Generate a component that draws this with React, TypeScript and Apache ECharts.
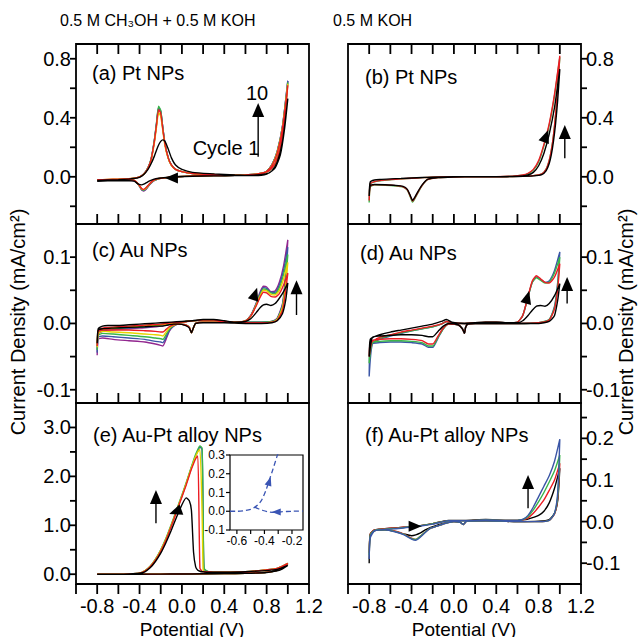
import React, { useEffect, useRef } from "react";
import * as echarts from "echarts";

const FONT = "'Liberation Sans', Arial, Helvetica, sans-serif";
const C_BLACK = "#000000";
const C_RED = "#ec1c24";
const C_YELLOW = "#e8d400";
const C_GREEN = "#3ab54a";
const C_BLUE = "#3b56a6";
const C_PURPLE = "#92278f";
const C_INSET = "#3a55b4";

// ---------- X axis (Potential, V): ticks every 0.2, labels every 0.4 ----------
const X_MIN = -1.0;
const X_MAX = 1.2;
const X_STEP = 0.2;
const X_TICKS = [-0.8, -0.6, -0.4, -0.2, 0, 0.2, 0.4, 0.6, 0.8, 1.0];
const X_TICKS_OUTER = [-1.0, -0.8, -0.6, -0.4, -0.2, 0, 0.2, 0.4, 0.6, 0.8, 1.0, 1.2];

// ---------- Panel (a) Pt NPs, CH3OH + KOH ----------
const POT_A = [-0.8, -0.7, -0.6, -0.5, -0.45, -0.4, -0.36, -0.32, -0.29, -0.26, -0.24, -0.22, -0.2, -0.18, -0.16, -0.13, -0.1, -0.06, 0.0, 0.1, 0.3, 0.5, 0.65, 0.75, 0.8, 0.85, 0.9, 0.95, 1.0,
  0.97, 0.93, 0.88, 0.82, 0.7, 0.5, 0.3, 0.1, -0.05, -0.15, -0.22, -0.27, -0.31, -0.34, -0.36, -0.38, -0.41, -0.45, -0.5, -0.6, -0.7, -0.8];
const A_BLACK = [-0.025, -0.022, -0.02, -0.016, -0.012, -0.004, 0.015, 0.05, 0.09, 0.14, 0.18, 0.215, 0.24, 0.25, 0.24, 0.19, 0.13, 0.08, 0.05, 0.03, 0.02, 0.012, 0.008, 0.01, 0.018, 0.04, 0.1, 0.24, 0.53,
  0.33, 0.15, 0.06, 0.025, 0.012, 0.008, 0.006, 0.004, 0.0, -0.005, -0.01, -0.018, -0.03, -0.042, -0.05, -0.055, -0.05, -0.03, -0.026, -0.027, -0.028, -0.03];
const A_RED = [-0.02, -0.018, -0.016, -0.013, -0.01, 0.0, 0.018, 0.06, 0.12, 0.24, 0.35, 0.455, 0.43, 0.32, 0.22, 0.13, 0.08, 0.05, 0.035, 0.022, 0.015, 0.01, 0.01, 0.02, 0.035, 0.075, 0.16, 0.33, 0.62,
  0.4, 0.2, 0.09, 0.04, 0.018, 0.01, 0.008, 0.005, 0.0, -0.006, -0.012, -0.025, -0.05, -0.075, -0.085, -0.08, -0.05, -0.025, -0.02, -0.02, -0.021, -0.022];
const A_YELLOW = [-0.02, -0.018, -0.016, -0.013, -0.01, 0.0, 0.017, 0.058, 0.115, 0.23, 0.335, 0.435, 0.41, 0.31, 0.21, 0.125, 0.078, 0.05, 0.035, 0.022, 0.015, 0.01, 0.01, 0.02, 0.036, 0.078, 0.165, 0.335, 0.63,
  0.41, 0.2, 0.09, 0.04, 0.018, 0.01, 0.008, 0.005, 0.0, -0.006, -0.012, -0.026, -0.052, -0.078, -0.087, -0.082, -0.05, -0.025, -0.02, -0.02, -0.021, -0.022];
const A_GREEN = [-0.021, -0.019, -0.017, -0.014, -0.01, 0.0, 0.019, 0.062, 0.125, 0.25, 0.365, 0.478, 0.45, 0.33, 0.225, 0.13, 0.08, 0.05, 0.035, 0.022, 0.015, 0.01, 0.01, 0.021, 0.037, 0.08, 0.17, 0.34, 0.64,
  0.41, 0.2, 0.09, 0.04, 0.018, 0.01, 0.008, 0.005, 0.0, -0.006, -0.013, -0.027, -0.054, -0.08, -0.09, -0.085, -0.052, -0.026, -0.021, -0.021, -0.022, -0.023];
const A_BLUE = [-0.022, -0.02, -0.018, -0.014, -0.01, 0.0, 0.019, 0.061, 0.123, 0.247, 0.36, 0.47, 0.445, 0.33, 0.225, 0.13, 0.08, 0.05, 0.035, 0.022, 0.015, 0.01, 0.01, 0.021, 0.038, 0.082, 0.172, 0.345, 0.65,
  0.42, 0.21, 0.09, 0.04, 0.018, 0.01, 0.008, 0.005, 0.0, -0.006, -0.013, -0.028, -0.056, -0.083, -0.093, -0.087, -0.053, -0.027, -0.022, -0.022, -0.023, -0.024];
const A_PURPLE = [-0.023, -0.021, -0.019, -0.015, -0.011, 0.0, 0.019, 0.06, 0.12, 0.244, 0.355, 0.465, 0.44, 0.33, 0.225, 0.13, 0.08, 0.05, 0.035, 0.022, 0.015, 0.01, 0.01, 0.021, 0.038, 0.082, 0.172, 0.345, 0.65,
  0.42, 0.21, 0.09, 0.04, 0.018, 0.01, 0.008, 0.005, 0.0, -0.006, -0.014, -0.029, -0.058, -0.086, -0.096, -0.09, -0.055, -0.028, -0.023, -0.023, -0.024, -0.025];

// ---------- Panel (b) Pt NPs, KOH ----------
const POT_B = [-0.8, -0.79, -0.75, -0.7, -0.6, -0.5, -0.4, -0.3, -0.2, 0.0, 0.2, 0.4, 0.55, 0.65, 0.7, 0.75, 0.8, 0.85, 0.9, 0.95, 1.0,
  0.98, 0.96, 0.94, 0.92, 0.9, 0.87, 0.83, 0.75, 0.6, 0.4, 0.2, 0.0, -0.15, -0.25, -0.3, -0.34, -0.37, -0.39, -0.41, -0.44, -0.48, -0.55, -0.65, -0.75, -0.79, -0.8];
const B_GREEN = [-0.175, -0.05, -0.035, -0.028, -0.02, -0.015, -0.01, -0.006, -0.003, 0.0, 0.0, 0.001, 0.003, 0.01, 0.02, 0.045, 0.1, 0.21, 0.35, 0.55, 0.81,
  0.6, 0.42, 0.28, 0.18, 0.11, 0.05, 0.02, 0.008, 0.003, 0.0, 0.0, -0.002, -0.006, -0.02, -0.06, -0.11, -0.15, -0.172, -0.14, -0.09, -0.07, -0.062, -0.057, -0.055, -0.07, -0.175];
const B_RED = [-0.16, -0.048, -0.033, -0.026, -0.019, -0.014, -0.01, -0.006, -0.003, 0.0, 0.0, 0.001, 0.004, 0.012, 0.024, 0.05, 0.11, 0.22, 0.36, 0.56, 0.82,
  0.6, 0.42, 0.28, 0.18, 0.11, 0.05, 0.02, 0.008, 0.003, 0.0, 0.0, -0.002, -0.006, -0.02, -0.058, -0.105, -0.145, -0.165, -0.135, -0.088, -0.068, -0.06, -0.055, -0.053, -0.065, -0.16];
const B_BLACK = [-0.13, -0.035, -0.022, -0.018, -0.014, -0.011, -0.008, -0.005, -0.002, 0.0, 0.0, 0.001, 0.002, 0.006, 0.012, 0.03, 0.075, 0.16, 0.29, 0.47, 0.73,
  0.52, 0.36, 0.24, 0.15, 0.09, 0.04, 0.015, 0.006, 0.002, 0.0, 0.0, -0.002, -0.006, -0.018, -0.055, -0.1, -0.14, -0.16, -0.13, -0.085, -0.065, -0.058, -0.054, -0.052, -0.06, -0.13];

// ---------- Panel (c) Au NPs, CH3OH + KOH ----------
const POT_C = [-0.8, -0.79, -0.75, -0.7, -0.6, -0.5, -0.4, -0.3, -0.2, -0.1, 0.0, 0.1, 0.2, 0.3, 0.4, 0.5, 0.6, 0.65, 0.7, 0.74, 0.77, 0.8, 0.84, 0.88, 0.92, 0.96, 1.0,
  0.98, 0.95, 0.9, 0.85, 0.75, 0.6, 0.4, 0.2, 0.13, 0.11, 0.09, 0.07, 0.03, -0.03, -0.08, -0.12, -0.15, -0.18, -0.2, -0.25, -0.35, -0.5, -0.65, -0.75, -0.79, -0.8];
const C_PURPLE_D = [-0.048, -0.016, -0.012, -0.01, -0.009, -0.008, -0.007, -0.006, -0.004, 0.0, 0.002, 0.004, 0.005, 0.005, 0.003, 0.002, 0.004, 0.012, 0.03, 0.048, 0.056, 0.055, 0.048, 0.049, 0.062, 0.087, 0.126,
  0.075, 0.03, 0.008, 0.003, 0.002, 0.002, 0.002, 0.002, 0.0, -0.006, -0.014, -0.006, -0.002, -0.001, -0.004, -0.012, -0.024, -0.034, -0.033, -0.031, -0.028, -0.026, -0.024, -0.022, -0.024, -0.048];
const C_BLUE_D = [-0.044, -0.014, -0.011, -0.009, -0.008, -0.007, -0.006, -0.005, -0.003, 0.0, 0.002, 0.004, 0.005, 0.005, 0.003, 0.002, 0.004, 0.012, 0.029, 0.046, 0.054, 0.053, 0.047, 0.047, 0.058, 0.08, 0.115,
  0.07, 0.028, 0.007, 0.003, 0.002, 0.002, 0.002, 0.002, 0.0, -0.006, -0.014, -0.006, -0.002, -0.001, -0.004, -0.011, -0.021, -0.029, -0.028, -0.027, -0.024, -0.022, -0.02, -0.019, -0.021, -0.044];
const C_GREEN_D = [-0.04, -0.012, -0.01, -0.008, -0.007, -0.006, -0.005, -0.004, -0.002, 0.0, 0.002, 0.004, 0.005, 0.005, 0.003, 0.002, 0.004, 0.011, 0.028, 0.044, 0.052, 0.051, 0.046, 0.045, 0.054, 0.074, 0.104,
  0.064, 0.026, 0.007, 0.003, 0.002, 0.002, 0.002, 0.002, 0.0, -0.006, -0.014, -0.006, -0.002, -0.001, -0.003, -0.009, -0.017, -0.024, -0.023, -0.022, -0.02, -0.018, -0.016, -0.015, -0.018, -0.04];
const C_YELLOW_D = [-0.036, -0.011, -0.009, -0.007, -0.006, -0.005, -0.004, -0.003, -0.002, 0.0, 0.002, 0.004, 0.005, 0.005, 0.003, 0.002, 0.004, 0.011, 0.027, 0.042, 0.05, 0.049, 0.044, 0.043, 0.05, 0.067, 0.092,
  0.058, 0.024, 0.006, 0.002, 0.001, 0.001, 0.002, 0.002, 0.0, -0.006, -0.014, -0.006, -0.002, -0.001, -0.003, -0.007, -0.013, -0.019, -0.018, -0.017, -0.016, -0.014, -0.013, -0.012, -0.015, -0.036];
const C_RED_D = [-0.034, -0.01, -0.007, -0.006, -0.005, -0.004, -0.003, -0.002, -0.001, 0.001, 0.002, 0.004, 0.005, 0.005, 0.003, 0.002, 0.004, 0.011, 0.026, 0.04, 0.047, 0.046, 0.041, 0.04, 0.045, 0.058, 0.076,
  0.05, 0.02, 0.005, 0.002, 0.001, 0.001, 0.002, 0.002, 0.0, -0.006, -0.014, -0.006, -0.002, -0.001, -0.002, -0.005, -0.009, -0.013, -0.013, -0.012, -0.011, -0.01, -0.01, -0.01, -0.012, -0.034];
const C_BLACK_D = [-0.03, -0.008, -0.004, -0.003, -0.003, -0.002, -0.001, 0.0, 0.001, 0.002, 0.003, 0.004, 0.006, 0.006, 0.004, 0.002, 0.003, 0.007, 0.016, 0.024, 0.028, 0.029, 0.027, 0.03, 0.038, 0.048, 0.061,
  0.035, 0.015, 0.004, 0.001, 0.0, 0.0, 0.001, 0.001, 0.0, -0.006, -0.014, -0.007, -0.003, -0.001, -0.001, -0.002, -0.003, -0.004, -0.004, -0.004, -0.005, -0.006, -0.007, -0.008, -0.01, -0.03];

// ---------- Panel (d) Au NPs, KOH ----------
const POT_D = [-0.8, -0.79, -0.75, -0.7, -0.6, -0.5, -0.4, -0.3, -0.2, -0.12, -0.07, -0.02, 0.1, 0.3, 0.4, 0.5, 0.6, 0.65, 0.7, 0.74, 0.78, 0.82, 0.86, 0.9, 0.95, 1.0,
  0.98, 0.95, 0.9, 0.8, 0.6, 0.4, 0.2, 0.13, 0.11, 0.1, 0.08, 0.04, -0.05, -0.1, -0.15, -0.2, -0.24, -0.3, -0.4, -0.5, -0.6, -0.7, -0.77, -0.8];
const D_BLUE = [-0.08, -0.035, -0.028, -0.024, -0.019, -0.015, -0.011, -0.008, -0.005, -0.001, 0.003, 0.001, 0.0, 0.002, 0.002, 0.001, 0.002, 0.012, 0.04, 0.062, 0.07, 0.066, 0.062, 0.064, 0.08, 0.108,
  0.062, 0.026, 0.006, 0.001, 0.0, 0.0, 0.0, -0.001, -0.006, -0.015, -0.008, -0.002, -0.001, -0.008, -0.022, -0.036, -0.036, -0.031, -0.029, -0.028, -0.028, -0.029, -0.031, -0.08];
const D_GREEN = [-0.06, -0.033, -0.027, -0.023, -0.018, -0.014, -0.011, -0.008, -0.005, -0.001, 0.003, 0.001, 0.0, 0.002, 0.002, 0.001, 0.002, 0.012, 0.04, 0.062, 0.069, 0.065, 0.061, 0.062, 0.076, 0.1,
  0.058, 0.024, 0.006, 0.001, 0.0, 0.0, 0.0, -0.001, -0.006, -0.015, -0.008, -0.002, -0.001, -0.008, -0.021, -0.034, -0.034, -0.029, -0.027, -0.026, -0.026, -0.027, -0.029, -0.06];
const D_RED = [-0.05, -0.03, -0.025, -0.021, -0.017, -0.013, -0.01, -0.007, -0.004, -0.001, 0.003, 0.001, 0.0, 0.002, 0.002, 0.001, 0.002, 0.012, 0.041, 0.064, 0.072, 0.067, 0.062, 0.061, 0.07, 0.09,
  0.052, 0.022, 0.005, 0.001, 0.0, 0.0, 0.0, -0.001, -0.006, -0.015, -0.008, -0.002, -0.001, -0.007, -0.019, -0.031, -0.031, -0.026, -0.024, -0.023, -0.023, -0.024, -0.026, -0.05];
const D_BLACK = [-0.05, -0.024, -0.02, -0.017, -0.013, -0.01, -0.007, -0.004, -0.001, 0.003, 0.006, 0.002, 0.0, 0.002, 0.002, 0.001, 0.001, 0.004, 0.012, 0.02, 0.026, 0.027, 0.026, 0.03, 0.042, 0.06,
  0.035, 0.012, 0.003, 0.0, 0.0, 0.0, 0.0, -0.001, -0.006, -0.015, -0.008, -0.002, 0.0, -0.004, -0.012, -0.02, -0.02, -0.018, -0.017, -0.017, -0.018, -0.019, -0.021, -0.05];

// ---------- Panel (e) Au-Pt alloy NPs, CH3OH + KOH ----------
const POT_E = [-0.8, -0.6, -0.4, -0.2, 0.0, 0.2, 0.4, 0.6, 0.8, 0.9, 0.95, 1.0,
  0.9, 0.6, 0.4, 0.3, 0.25, 0.21, 0.2, 0.19, 0.17, 0.15, 0.13, 0.11, 0.09, 0.07, 0.04, 0.0, -0.05, -0.1, -0.15, -0.2, -0.25, -0.3, -0.35, -0.4, -0.5, -0.6, -0.8];
const E_BLUE = [0.0, 0.0, 0.0, 0.002, 0.005, 0.01, 0.015, 0.02, 0.04, 0.08, 0.13, 0.22,
  0.12, 0.05, 0.04, 0.04, 0.05, 0.1, 1.3, 2.55, 2.6, 2.52, 2.42, 2.3, 2.18, 2.05, 1.85, 1.6, 1.3, 1.0, 0.72, 0.49, 0.3, 0.16, 0.07, 0.02, 0.005, 0.0, 0.0];
const E_GREEN = [0.0, 0.0, 0.0, 0.002, 0.005, 0.01, 0.015, 0.02, 0.04, 0.08, 0.13, 0.22,
  0.12, 0.05, 0.04, 0.04, 0.05, 0.12, 1.4, 2.58, 2.62, 2.55, 2.45, 2.33, 2.2, 2.07, 1.87, 1.62, 1.32, 1.02, 0.74, 0.5, 0.31, 0.165, 0.07, 0.02, 0.005, 0.0, 0.0];
const E_YELLOW = [0.0, 0.0, 0.0, 0.002, 0.005, 0.01, 0.015, 0.02, 0.04, 0.08, 0.13, 0.22,
  0.12, 0.05, 0.04, 0.04, 0.05, 0.06, 0.1, 1.3, 2.55, 2.5, 2.41, 2.3, 2.18, 2.05, 1.85, 1.6, 1.3, 1.0, 0.72, 0.49, 0.3, 0.16, 0.07, 0.02, 0.005, 0.0, 0.0];
const E_RED = [0.0, 0.0, 0.0, 0.002, 0.005, 0.01, 0.015, 0.02, 0.04, 0.08, 0.13, 0.22,
  0.12, 0.05, 0.04, 0.04, 0.05, 0.05, 0.05, 0.06, 0.12, 2.42, 2.36, 2.26, 2.15, 2.02, 1.82, 1.58, 1.28, 0.98, 0.7, 0.47, 0.29, 0.155, 0.065, 0.02, 0.005, 0.0, 0.0];
const E_BLACK = [0.0, 0.0, 0.0, 0.002, 0.004, 0.008, 0.012, 0.018, 0.035, 0.07, 0.11, 0.18,
  0.1, 0.05, 0.04, 0.04, 0.04, 0.045, 0.05, 0.05, 0.06, 0.08, 0.15, 0.45, 1.3, 1.5, 1.56, 1.42, 1.17, 0.9, 0.65, 0.43, 0.26, 0.13, 0.05, 0.02, 0.005, 0.0, 0.0];

// ---------- Inset of (e) ----------
const INSET_UP_V = [-0.65, -0.6, -0.55, -0.5, -0.47, -0.44, -0.42, -0.39, -0.37, -0.34, -0.31, -0.3];
const INSET_UP_I = [0.0, 0.0, 0.003, 0.01, 0.022, 0.04, 0.06, 0.11, 0.155, 0.22, 0.29, 0.31];
const INSET_DN_V = [-0.47, -0.44, -0.41, -0.37, -0.33, -0.28, -0.2, -0.12];
const INSET_DN_I = [0.022, 0.012, 0.004, -0.003, -0.006, -0.003, 0.0, 0.001];
const INSET_X_TICKS = [-0.6, -0.5, -0.4, -0.3, -0.2];
const INSET_Y_TICKS = [-0.1, 0, 0.1, 0.2, 0.3];

// ---------- Panel (f) Au-Pt alloy NPs, KOH ----------
const POT_F = [-0.8, -0.79, -0.75, -0.7, -0.6, -0.5, -0.4, -0.3, -0.2, -0.1, -0.05, 0.1, 0.3, 0.5, 0.6, 0.65, 0.7, 0.75, 0.8, 0.85, 0.9, 0.95, 1.0,
  0.98, 0.95, 0.9, 0.8, 0.6, 0.3, 0.12, 0.09, 0.06, 0.0, -0.08, -0.15, -0.22, -0.27, -0.32, -0.36, -0.4, -0.47, -0.55, -0.65, -0.75, -0.79, -0.8];
const F_BLUE = [-0.09, -0.04, -0.022, -0.02, -0.018, -0.016, -0.013, -0.01, -0.006, 0.0, 0.002, 0.002, 0.004, 0.003, 0.003, 0.005, 0.015, 0.035, 0.06, 0.085, 0.11, 0.145, 0.198,
  0.07, 0.02, 0.003, 0.0, 0.0, 0.002, 0.001, -0.007, -0.002, 0.0, -0.004, -0.01, -0.016, -0.026, -0.038, -0.045, -0.042, -0.032, -0.025, -0.02, -0.022, -0.035, -0.09];
const F_GREEN = [-0.08, -0.035, -0.021, -0.019, -0.017, -0.015, -0.012, -0.009, -0.005, 0.0, 0.002, 0.002, 0.004, 0.003, 0.003, 0.005, 0.012, 0.028, 0.048, 0.07, 0.095, 0.122, 0.16,
  0.06, 0.02, 0.003, 0.0, 0.0, 0.002, 0.001, -0.007, -0.002, 0.0, -0.004, -0.01, -0.016, -0.025, -0.036, -0.043, -0.041, -0.031, -0.024, -0.02, -0.021, -0.032, -0.08];
const F_RED = [-0.075, -0.03, -0.02, -0.018, -0.016, -0.014, -0.012, -0.009, -0.005, 0.0, 0.002, 0.002, 0.004, 0.003, 0.003, 0.004, 0.009, 0.02, 0.035, 0.052, 0.075, 0.1, 0.14,
  0.055, 0.018, 0.003, 0.0, 0.0, 0.002, 0.001, -0.007, -0.002, 0.0, -0.004, -0.01, -0.016, -0.025, -0.036, -0.043, -0.04, -0.03, -0.023, -0.019, -0.02, -0.03, -0.075];
const F_BLACK = [-0.1, -0.03, -0.02, -0.018, -0.016, -0.014, -0.012, -0.009, -0.005, 0.001, 0.003, 0.003, 0.005, 0.003, 0.003, 0.004, 0.006, 0.01, 0.015, 0.025, 0.045, 0.08, 0.128,
  0.05, 0.02, 0.005, 0.001, 0.0, 0.002, 0.001, -0.007, -0.002, 0.0, -0.003, -0.008, -0.014, -0.02, -0.028, -0.032, -0.034, -0.03, -0.024, -0.02, -0.022, -0.03, -0.1];

// ---------- layout (pixels) ----------
const GRID_RECTS = [
  { left: 76, top: 44, width: 233, height: 180 },
  { left: 348, top: 44, width: 233, height: 180 },
  { left: 76, top: 224, width: 233, height: 179 },
  { left: 348, top: 224, width: 233, height: 179 },
  { left: 76, top: 403, width: 233, height: 181 },
  { left: 348, top: 403, width: 233, height: 181 },
  { left: 230, top: 455, width: 73, height: 75 },
];

const Y_CFG = [
  { min: -0.32, max: 0.9, ticks: [-0.2, 0, 0.2, 0.4, 0.6, 0.8], labels: [0, 0.4, 0.8], right: false },
  { min: -0.32, max: 0.9, ticks: [-0.2, 0, 0.2, 0.4, 0.6, 0.8], labels: [0, 0.4, 0.8], right: true },
  { min: -0.12, max: 0.15, ticks: [-0.1, -0.05, 0, 0.05, 0.1], labels: [-0.1, 0, 0.1], right: false },
  { min: -0.12, max: 0.15, ticks: [-0.1, -0.05, 0, 0.05, 0.1], labels: [-0.1, 0, 0.1], right: true },
  { min: -0.2, max: 3.5, ticks: [0, 0.5, 1, 1.5, 2, 2.5, 3], labels: [0, 1, 2, 3], right: false },
  { min: -0.15, max: 0.285, ticks: [-0.1, -0.05, 0, 0.05, 0.1, 0.15, 0.2, 0.25], labels: [-0.1, 0, 0.1, 0.2], right: true },
];

const PANELS = [
  { pot: POT_A, curves: [[A_PURPLE, C_PURPLE], [A_BLUE, C_BLUE], [A_GREEN, C_GREEN], [A_YELLOW, C_YELLOW], [A_RED, C_RED], [A_BLACK, C_BLACK]] },
  { pot: POT_B, curves: [[B_GREEN, C_GREEN], [B_RED, C_RED], [B_BLACK, C_BLACK]] },
  { pot: POT_C, curves: [[C_PURPLE_D, C_PURPLE], [C_BLUE_D, C_BLUE], [C_GREEN_D, C_GREEN], [C_YELLOW_D, C_YELLOW], [C_RED_D, C_RED], [C_BLACK_D, C_BLACK]] },
  { pot: POT_D, curves: [[D_BLUE, C_BLUE], [D_GREEN, C_GREEN], [D_RED, C_RED], [D_BLACK, C_BLACK]] },
  { pot: POT_E, curves: [[E_BLUE, C_BLUE], [E_GREEN, C_GREEN], [E_YELLOW, C_YELLOW], [E_RED, C_RED], [E_BLACK, C_BLACK]] },
  { pot: POT_F, curves: [[F_BLACK, C_BLACK], [F_RED, C_RED], [F_GREEN, C_GREEN], [F_BLUE, C_BLUE]] },
];

const fmt1 = (v: number) => v.toFixed(1);
const fmtX = (v: number) => (Math.abs(Math.round(v * 10)) % 4 === 0 ? v.toFixed(1) : "");
const pair = (xs: number[], ys: number[]) => xs.map((x, k) => [x, ys[k]]);

function xAxisFor(i: number, labels: boolean) {
  return {
    type: "value", gridIndex: i, min: X_MIN, max: X_MAX, interval: X_STEP, position: "bottom",
    axisLine: { show: false, onZero: false }, splitLine: { show: false },
    axisTick: { show: false },
    axisLabel: { show: labels, formatter: fmtX, fontSize: 20, fontFamily: FONT, color: "#000", margin: 12 },
  };
}

// tick descriptors per panel: [x, y, dxPx, dyPx]  (anchored through the panel's own axes)
function tickData(i: number) {
  const c = Y_CFG[i];
  const out: number[][] = [];
  const bottomRow = i >= 4;
  for (const v of bottomRow ? X_TICKS_OUTER : X_TICKS) {
    out.push([v, c.min, 0, bottomRow ? 10 : -10]);
    if (i < 2) out.push([v, c.max, 0, 10]);
  }
  for (const v of c.ticks) out.push(c.right ? [X_MAX, v, 6, 0] : [X_MIN, v, -6, 0]);
  return out;
}
function insetTickData() {
  const out: number[][] = [];
  for (const v of INSET_X_TICKS) out.push([v, -0.1, 0, 4]);
  for (const v of INSET_Y_TICKS) out.push([-0.65, v, -4, 0]);
  return out;
}

function tickSeries(i: number, data: number[][], w: number) {
  return {
    type: "custom", xAxisIndex: i, yAxisIndex: i, clip: false, silent: true, z: 20,
    dimensions: ["x", "y", "dx", "dy"], encode: { x: 0, y: 1 },
    data,
    renderItem: (_p: any, api: any) => {
      const pt = api.coord([api.value(0), api.value(1)]);
      return {
        type: "line",
        shape: { x1: pt[0], y1: pt[1], x2: pt[0] + api.value(2), y2: pt[1] + api.value(3) },
        style: { stroke: "#000", lineWidth: w },
      };
    },
  };
}

function buildOption() {
  const xAxes: any[] = [];
  const yAxes: any[] = [];
  for (let i = 0; i < 6; i++) {
    xAxes.push(xAxisFor(i, i >= 4));
    const c = Y_CFG[i];
    yAxes.push({
      type: "value", gridIndex: i, min: c.min, max: c.max, position: c.right ? "right" : "left",
      axisLine: { show: false, onZero: false }, splitLine: { show: false },
      axisTick: { show: false },
      axisLabel: { customValues: c.labels, formatter: fmt1, fontSize: 20, fontFamily: FONT, color: "#000", margin: 5 },
    });
  }
  xAxes.push({
    type: "value", gridIndex: 6, min: -0.65, max: -0.12, position: "bottom",
    axisLine: { show: false, onZero: false }, splitLine: { show: false }, axisTick: { show: false },
    axisLabel: { customValues: [-0.6, -0.4, -0.2], formatter: fmt1, fontSize: 12, fontFamily: FONT, color: "#000", margin: 5 },
  });
  yAxes.push({
    type: "value", gridIndex: 6, min: -0.1, max: 0.3, position: "left",
    axisLine: { show: false, onZero: false }, splitLine: { show: false }, axisTick: { show: false },
    axisLabel: { customValues: INSET_Y_TICKS, formatter: fmt1, fontSize: 12, fontFamily: FONT, color: "#000", margin: 5 },
  });

  const series: any[] = [];
  PANELS.forEach((p, i) => {
    p.curves.forEach(([vals, color]) => {
      series.push({
        type: "line", xAxisIndex: i, yAxisIndex: i, data: pair(p.pot, vals as number[]),
        showSymbol: false, symbol: "none", smooth: 0.2, silent: true,
        lineStyle: { color: color as string, width: 1.4 },
      });
    });
    series.push(tickSeries(i, tickData(i), 1.8));
  });
  for (const [vs, is] of [[INSET_UP_V, INSET_UP_I], [INSET_DN_V, INSET_DN_I]]) {
    series.push({
      type: "line", xAxisIndex: 6, yAxisIndex: 6, data: pair(vs, is),
      showSymbol: false, symbol: "none", smooth: 0.3, silent: true,
      lineStyle: { color: C_INSET, width: 1.3, type: [5, 3] },
    });
  }
  series.push(tickSeries(6, insetTickData(), 1.2));

  return {
    animation: false,
    backgroundColor: "#fff",
    grid: GRID_RECTS.map((r, i) => ({
      ...r, show: true, borderColor: "#000", borderWidth: i === 6 ? 1.2 : 1.8,
      backgroundColor: i === 6 ? "#fff" : "transparent", containLabel: false,
    })),
    xAxis: xAxes,
    yAxis: yAxes,
    series,
  };
}

// annotation arrows (data coordinates of the panel they belong to)
const UP_ARROWS = [
  { g: 0, x: 0.72, y0: 0.136, y1: 0.5 },
  { g: 1, x: 1.047, y0: 0.125, y1: 0.351 },
  { g: 2, x: 1.082, y0: 0.0127, y1: 0.065 },
  { g: 3, x: 1.069, y0: 0.03, y1: 0.07 },
  { g: 4, x: -0.245, y0: 1.04, y1: 1.72 },
  { g: 5, x: 0.7, y0: 0.032, y1: 0.112 },
];
const HEADS = [
  { g: 0, tip: [-0.16, -0.008], ang: 180, len: 13, half: 5.5, color: "#000" },
  { g: 1, tip: [0.89, 0.317], ang: 70, len: 13, half: 5.5, color: "#000" },
  { g: 2, tip: [0.71, 0.054], ang: 72, len: 13, half: 5.5, color: "#000" },
  { g: 3, tip: [0.71, 0.049], ang: 75, len: 13, half: 5.5, color: "#000" },
  { g: 4, tip: [-0.12, 1.23], ang: 200, len: 13, half: 5.5, color: "#000" },
  { g: 5, tip: [-0.305, -0.011], ang: 0, len: 13, half: 5.5, color: "#000" },
  { g: 6, tip: [-0.354, 0.183], ang: 72, len: 9, half: 3.5, color: C_INSET },
  { g: 6, tip: [-0.347, -0.004], ang: 180, len: 9, half: 3.5, color: C_INSET },
];

function headShape(tip: number[], angDeg: number, len: number, half: number, color: string) {
  const a = (angDeg * Math.PI) / 180;
  const dx = Math.cos(a), dy = -Math.sin(a);
  const bx = tip[0] - dx * len, by = tip[1] - dy * len;
  const nx = -dy, ny = dx;
  return {
    type: "polygon", z: 100,
    shape: { points: [[tip[0], tip[1]], [bx + nx * half, by + ny * half], [bx - nx * half, by - ny * half]] },
    style: { fill: color },
  };
}

function txt(text: string, x: number, y: number, size: number, align = "left", extra: any = {}) {
  return {
    type: "text", z: 100, x, y, ...extra,
    style: { text, x: 0, y: 0, fill: "#000", fontSize: size, fontFamily: FONT, align, verticalAlign: "middle" },
  };
}

function buildGraphics(chart: any) {
  const g: any[] = [];
  const px = (gi: number, p: number[]) => chart.convertToPixel({ gridIndex: gi }, p) as number[];

  for (const a of UP_ARROWS) {
    const p0 = px(a.g, [a.x, a.y0]);
    const p1 = px(a.g, [a.x, a.y1]);
    g.push({ type: "line", z: 100, shape: { x1: p0[0], y1: p0[1], x2: p1[0], y2: p1[1] + 12 }, style: { stroke: "#000", lineWidth: 1.4 } });
    g.push(headShape(p1, 90, 14, 6, "#000"));
  }
  for (const h of HEADS) {
    g.push(headShape(px(h.g, h.tip), h.ang, h.len, h.half, h.color));
  }
  g.push(txt("(a) Pt NPs", 92, 73, 20));
  g.push(txt("(b) Pt NPs", 365, 77, 20));
  g.push(txt("(c) Au NPs", 92, 250, 20));
  g.push(txt("(d) Au NPs", 360, 253, 20));
  g.push(txt("(e) Au-Pt alloy NPs", 93, 435, 20));
  g.push(txt("(f) Au-Pt alloy NPs", 365, 435, 20));
  g.push(txt("10", 257, 93, 20, "center"));
  g.push(txt("Cycle 1", 226, 148, 20, "center"));
  g.push(txt("Potential (V)", 192, 629, 19, "center"));
  g.push(txt("Potential (V)", 464, 629, 19, "center"));
  g.push(txt("Current Density (mA/cm\u00B2)", 18, 322, 20, "center", { rotation: Math.PI / 2 }));
  g.push(txt("Current Density (mA/cm\u00B2)", 626, 322, 20, "center", { rotation: Math.PI / 2 }));
  g.push(txt("0.5 M KOH", 333, 20, 16, "left"));
  g.push(txt("0.5 M CH\u2083OH + 0.5 M KOH", 60, 20, 16, "left"));
  return g;
}

export default function App() {
  const ref = useRef<HTMLDivElement>(null);
  useEffect(() => {
    const chart = echarts.init(ref.current!, null, { renderer: "svg" });
    chart.setOption(buildOption() as any);
    chart.setOption({ graphic: buildGraphics(chart) } as any);
    return () => chart.dispose();
  }, []);
  return <div ref={ref} style={{ position: "fixed", left: 0, top: 0, width: 641, height: 637, background: "#fff" }} />;
}
